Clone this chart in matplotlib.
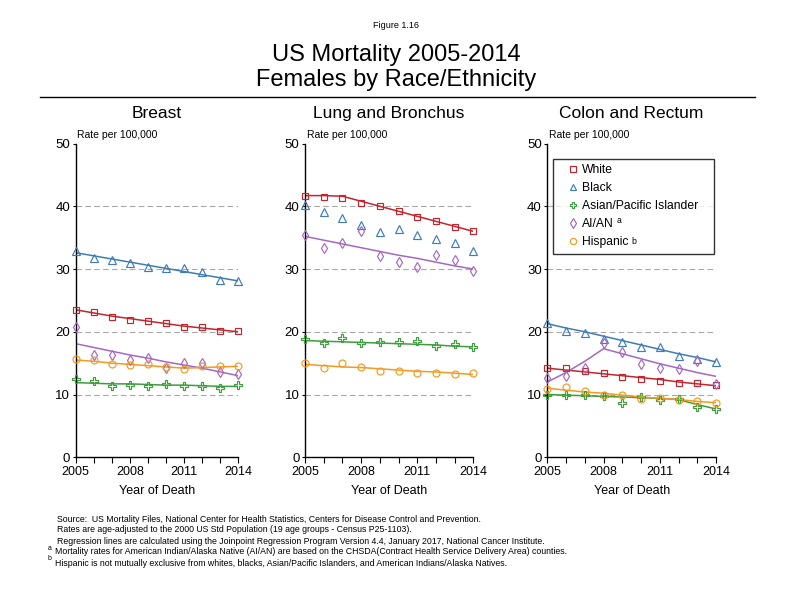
import numpy as np
import matplotlib.pyplot as plt
from matplotlib.lines import Line2D

plt.rcParams["font.family"] = ["Liberation Sans", "DejaVu Sans"]

# --- Data ---
years = np.arange(2005, 2015)
panels = ["Breast", "Lung and Bronchus", "Colon and Rectum"]
groups = ["White", "Black", "Asian/Pacific Islander", "AI/AN", "Hispanic"]

# Breast
breast_white = [23.5, 23.1, 22.4, 21.9, 21.7, 21.4, 20.8, 20.7, 20.2, 20.1]
breast_white_fit = [23.5, 23.0, 22.5, 22.1, 21.7, 21.3, 20.9, 20.6, 20.3, 20.0]
breast_black = [32.8, 31.8, 31.4, 31.0, 30.3, 30.2, 30.2, 29.5, 28.2, 28.1]
breast_black_fit = [32.6, 32.1, 31.6, 31.1, 30.6, 30.1, 29.6, 29.1, 28.6, 28.1]
breast_api = [12.4, 12.2, 11.3, 11.5, 11.3, 11.6, 11.3, 11.4, 11.1, 11.5]
breast_api_fit = [11.9, 11.8, 11.7, 11.7, 11.6, 11.5, 11.5, 11.4, 11.3, 11.3]
breast_aian = [20.7, 16.3, 16.3, 15.5, 15.9, 14.3, 15.1, 15.1, 13.6, 13.2]
breast_aian_fit = [18.1, 17.5, 16.9, 16.3, 15.8, 15.2, 14.7, 14.2, 13.6, 13.0]
breast_hisp = [15.6, 15.5, 14.9, 14.7, 14.8, 14.4, 14.1, 14.6, 14.5, 14.6]
breast_hisp_fit = [15.5, 15.3, 15.0, 14.8, 14.6, 14.4, 14.2, 14.3, 14.4, 14.5]

# Lung and Bronchus (no regression line for Black)
lung_white = [41.7, 41.4, 41.3, 40.5, 40.0, 39.3, 38.3, 37.7, 36.7, 36.0]
lung_white_fit = [41.7, 41.7, 41.6, 40.8, 40.0, 39.2, 38.4, 37.6, 36.8, 36.0]
lung_black = [40.2, 39.1, 38.2, 37.0, 35.9, 36.4, 35.4, 34.8, 34.2, 32.9]
lung_black_fit = None
lung_api = [18.8, 18.2, 19.0, 18.2, 18.4, 18.3, 18.5, 17.7, 18.0, 17.6]
lung_api_fit = [18.6, 18.5, 18.4, 18.3, 18.2, 18.1, 18.0, 17.9, 17.7, 17.6]
lung_aian = [35.4, 33.4, 34.1, 36.0, 32.0, 31.1, 30.4, 32.3, 31.5, 29.7]
lung_aian_fit = [35.2, 34.6, 34.0, 33.4, 32.8, 32.2, 31.7, 31.1, 30.5, 30.0]
lung_hisp = [15.0, 14.2, 15.0, 14.4, 13.8, 13.8, 13.4, 13.5, 13.3, 13.4]
lung_hisp_fit = [14.8, 14.6, 14.4, 14.3, 14.1, 13.9, 13.7, 13.6, 13.4, 13.2]

# Colon and Rectum
colon_white = [14.2, 14.2, 13.7, 13.4, 12.8, 12.5, 12.2, 11.9, 11.8, 11.5]
colon_white_fit = [14.2, 13.9, 13.6, 13.3, 13.0, 12.7, 12.4, 12.0, 11.7, 11.4]
colon_black = [21.4, 20.2, 19.8, 18.9, 18.4, 17.6, 17.5, 16.2, 15.6, 15.2]
colon_black_fit = [21.3, 20.6, 20.0, 19.3, 18.6, 17.9, 17.2, 16.5, 15.9, 15.2]
colon_api = [10.0, 9.9, 9.9, 9.8, 8.6, 9.6, 9.2, 9.3, 8.0, 7.7]
colon_api_fit = [10.0, 9.9, 9.8, 9.7, 9.6, 9.5, 9.4, 9.2, 8.4, 7.7]
colon_aian = [12.7, 12.9, 14.2, 18.2, 16.8, 14.8, 14.2, 14.1, 15.3, 11.7]
colon_aian_fit = [12.0, 13.5, 15.3, 17.3, 16.5, 15.7, 14.9, 14.2, 13.5, 12.9]
colon_hisp = [10.9, 11.2, 10.6, 9.9, 10.0, 9.3, 9.5, 9.1, 9.0, 8.7]
colon_hisp_fit = [11.0, 10.7, 10.4, 10.2, 9.9, 9.6, 9.4, 9.2, 8.9, 8.7]

panel_data = [
    [(breast_white, breast_white_fit), (breast_black, breast_black_fit),
     (breast_api, breast_api_fit), (breast_aian, breast_aian_fit),
     (breast_hisp, breast_hisp_fit)],
    [(lung_white, lung_white_fit), (lung_black, lung_black_fit),
     (lung_api, lung_api_fit), (lung_aian, lung_aian_fit),
     (lung_hisp, lung_hisp_fit)],
    [(colon_white, colon_white_fit), (colon_black, colon_black_fit),
     (colon_api, colon_api_fit), (colon_aian, colon_aian_fit),
     (colon_hisp, colon_hisp_fit)],
]

# --- Styles ---
colors = ["#c4242c", "#3f7cb6", "#3d9e3d", "#a468c0", "#f29a22"]
markers = ["s", "^", "P", "d", "o"]
msizes = [4.3, 5.2, 5.2, 5.3, 5.0]

fig = plt.figure(figsize=(7.92, 6.12), dpi=100)

positions = [
    [75.7 / 792, 0.2528, 162.6 / 792, 0.5127],
    [305.0 / 792, 0.2528, 168.3 / 792, 0.5127],
    [547.3 / 792, 0.2528, 168.7 / 792, 0.5127],
]

axes = []
for i, pos in enumerate(positions):
    ax = fig.add_axes(pos)
    axes.append(ax)
    for y in [10, 20, 30, 40]:
        ax.axhline(y, color="#a8a8a8", lw=0.8, dashes=(5, 3), zorder=0)
    for (vals, fit), c, m, ms in zip(panel_data[i], colors, markers, msizes):
        if fit is not None:
            ax.plot(years, fit, color=c, lw=1.1, zorder=2)
        ax.plot(years, vals, linestyle="none", marker=m, ms=ms,
                mfc="none", mec=c, mew=0.85, zorder=3, clip_on=False)
    ax.set_xlim(2005, 2014)
    ax.set_ylim(0, 50)
    ax.set_xticks(years)
    ax.set_xticklabels([str(y) if y in (2005, 2008, 2011, 2014) else ""
                        for y in years])
    ax.set_yticks([0, 10, 20, 30, 40, 50])
    ax.tick_params(axis="x", direction="out", length=4, width=0.8,
                   labelsize=9, pad=2)
    ax.tick_params(axis="y", direction="out", length=2, width=0.8,
                   labelsize=9.5, pad=2)
    for s in ["top", "right"]:
        ax.spines[s].set_visible(False)
    for s in ["left", "bottom"]:
        ax.spines[s].set_linewidth(1.0)
    ax.text(0.5, 1.097, panels[i], transform=ax.transAxes, ha="center",
            va="center", fontsize=12.5)
    ax.text(0.01, 1.012, "Rate per 100,000", transform=ax.transAxes,
            ha="left", va="bottom", fontsize=7.5)
    ax.text(0.5, -0.108, "Year of Death", transform=ax.transAxes,
            ha="center", va="center", fontsize=9)

# Legend in the colon panel
handles = [Line2D([], [], linestyle="none", marker=m, ms=ms * 0.9,
                  mfc="none", mec=c, mew=0.85)
           for c, m, ms in zip(colors, markers, msizes)]
leg = axes[2].legend(handles, groups, loc="upper left",
                     bbox_to_anchor=(0.036, 0.654, 0.952, 0.297),
                     mode="expand", fontsize=8.7, frameon=True,
                     fancybox=False, edgecolor="black", borderaxespad=0,
                     handlelength=2.4, handletextpad=-0.45, labelspacing=0.5,
                     borderpad=0.45, handleheight=0.7)
leg.get_frame().set_linewidth(1.0)

# Small footnote markers after "AI/AN" and "Hispanic" in the legend
fig.canvas.draw()
renderer = fig.canvas.get_renderer()
inv = fig.transFigure.inverted()
texts = leg.get_texts()
for t, mark, dy in [(texts[3], "a", 3.0), (texts[4], "b", 0.0)]:
    bb = t.get_window_extent(renderer)
    x0, y0 = inv.transform((bb.x1 + 3, bb.y0 + 2 + dy))
    fig.text(x0, y0, mark, ha="left", va="bottom", fontsize=6.2)

# Titles
fig.text(0.5, 1 - 26 / 612, "Figure 1.16", ha="center", va="center",
         fontsize=6.5)
fig.text(0.5, 1 - 55 / 612, "US Mortality 2005-2014", ha="center",
         va="center", fontsize=17)
fig.text(0.5, 1 - 80 / 612, "Females by Race/Ethnicity", ha="center",
         va="center", fontsize=17)
fig.add_artist(Line2D([40 / 792, 755 / 792], [1 - 97 / 612, 1 - 97 / 612],
                      color="black", lw=1.0, transform=fig.transFigure))

# Footnotes
notes = [
    "Source:  US Mortality Files, National Center for Health Statistics, "
    "Centers for Disease Control and Prevention.",
    "Rates are age-adjusted to the 2000 US Std Population "
    "(19 age groups - Census P25-1103).",
    "Regression lines are calculated using the Joinpoint Regression Program "
    "Version 4.4, January 2017, National Cancer Institute.",
    "Mortality rates for American Indian/Alaska Native (AI/AN) are based on "
    "the CHSDA(Contract Health Service Delivery Area) counties.",
    "Hispanic is not mutually exclusive from whites, blacks, Asian/Pacific "
    "Islanders, and American Indians/Alaska Natives.",
]
for k, note in enumerate(notes):
    yy = 1 - (519 + 11 * k) / 612
    x0 = 57 / 792 if k < 3 else 55 / 792
    fig.text(x0, yy, note, ha="left", va="center", fontsize=6.3)
fig.text(48 / 792, 1 - 548 / 612, "a", ha="left", va="center", fontsize=5)
fig.text(48 / 792, 1 - 559 / 612, "b", ha="left", va="center", fontsize=5)

fig.savefig("out.png", dpi=100)
